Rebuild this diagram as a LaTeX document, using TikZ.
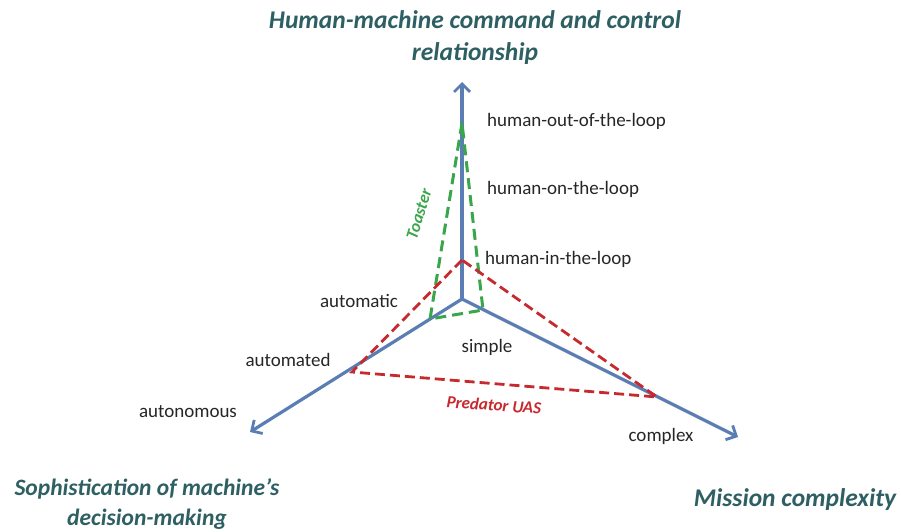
\documentclass[tikz,border=0pt]{standalone}
\usepackage{fontspec}
\setmainfont{Carlito}
\usetikzlibrary{arrows.meta}
\definecolor{axisblue}{HTML}{5A7DB3}
\definecolor{toastgreen}{HTML}{3AA64C}
\definecolor{predred}{HTML}{C62A2E}
\definecolor{titleteal}{HTML}{2E5F63}
\tikzset{
  axis/.style={draw=axisblue, line width=3.2pt, -{Straight Barb[length=8pt,width=16pt,line width=2.8pt]}},
  toast/.style={draw=toastgreen, line width=3pt, dash pattern=on 11pt off 6pt, line join=miter},
  pred/.style={draw=predred, line width=2.8pt, dash pattern=on 10pt off 5pt, line join=miter},
  lbl/.style={font=\fontsize{19}{21}\selectfont, text=black!85, inner sep=0pt, anchor=west},
  ttl/.style={font=\fontsize{25.5}{32}\selectfont\bfseries\itshape, text=titleteal, align=center, inner sep=0pt},
}
\begin{document}
\begin{tikzpicture}[x=1pt,y=-1pt]
\useasboundingbox (0,0) rectangle (901,532);
% axes
\coordinate (O) at (462,299);
\coordinate (top) at (462,82);
\coordinate (left) at (250,432);
\coordinate (right) at (738,437);
\draw[axis] (O) -- (top);
\draw[axis] (O) -- (left);
\draw[axis] (O) -- (right);
% toaster triangle
\coordinate (t1) at (462,123);
\coordinate (t2) at (430,319);
\coordinate (t3) at (483,310);
\draw[toast] (t1) -- (t2) -- (t3) -- cycle;
% predator triangle
\coordinate (p1) at (462,260);
\coordinate (p2) at (352,372);
\coordinate (p3) at (657,397);
\draw[pred] (p1) -- (p2) -- (p3) -- cycle;
% labels
\node[lbl] (hout) at (487,121) {human-out-of-the-loop};
\node[lbl] (hon) at (487,189) {human-on-the-loop};
\node[lbl] (hin) at (485,259) {human-in-the-loop};
\node[lbl, anchor=center] (automatic) at (359,301) {automatic};
\node[lbl, anchor=center] (automated) at (288,360) {automated};
\node[lbl, anchor=center] (autonomous) at (188,412) {autonomous};
\node[lbl, anchor=center] (simple) at (487,347) {simple};
\node[lbl, anchor=center] (complex) at (661,436) {complex};
\node[font=\fontsize{17}{19}\selectfont\bfseries\itshape, text=toastgreen, rotate=73, inner sep=0pt] (toaster) at (419,214) {Toaster};
\node[font=\fontsize{17}{19}\selectfont\bfseries\itshape, text=predred, rotate=-4, inner sep=0pt] (predator) at (494,405) {Predator UAS};
% titles
\node[ttl] (ttop) at (475,38) {Human-machine command and control\\relationship};
\node[ttl, font=\fontsize{23.5}{30}\selectfont\bfseries\itshape] (tleft) at (147,504) {Sophistication of machine's\\decision-making};
\node[ttl] (tright) at (795,500) {Mission complexity};
\end{tikzpicture}
\end{document}
